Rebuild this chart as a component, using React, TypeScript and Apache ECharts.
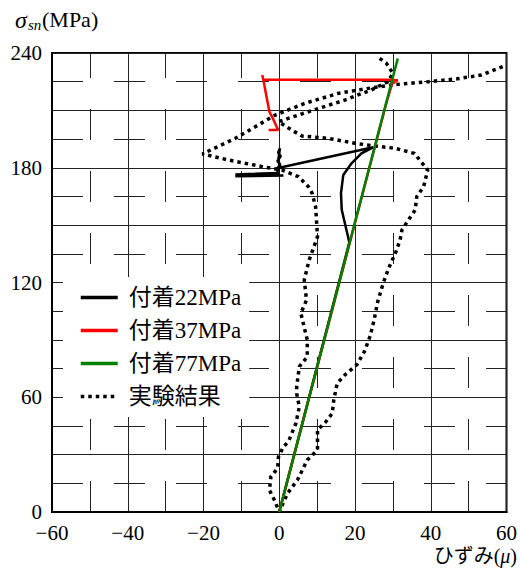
import React, { useEffect, useRef } from 'react';
import * as echarts from 'echarts';

const SERIF = '"Liberation Serif", "Times New Roman", serif';
const MIXED = '"Liberation Serif", "Noto Sans CJK JP", serif';

const seriesNames = ['付着22MPa', '付着37MPa', '付着77MPa', '実験結果'];

// strain (μ), stress (MPa)
const bond22: number[][] = [
  [0, 0], [18.5, 141], [16.5, 158], [16.3, 166.6], [16.9, 176.2], [19.1, 182.3],
  [21.7, 187.5], [24.8, 190.7], [-0.6, 179.7], [0.3, 181.5], [-0.5, 183.5],
  [0.4, 186], [-0.3, 188], [0.2, 190.2], [-0.2, 185], [0.1, 180], [-0.6, 177],
  [-11.6, 175.5], [1.1, 176], [-11.6, 176.5], [0, 177.3], [-0.5, 176.4],
];
const bond37: number[][] = [
  [0, 0], [28.3, 214], [29.8, 224], [31.3, 225.8], [29, 226], [-4.2, 226],
  [-4.5, 228.5], [-4.1, 225], [-3.2, 215.4], [-2.6, 209.3], [-1.5, 205],
  [-0.3, 199.7], [-2.8, 199.7],
];
const bond77: number[][] = [[0, 0], [31.3, 237.2]];
const experiment: number[][] = [
  [26.5, 237.2], [28.3, 234.6], [30, 229.4], [28.7, 225], [24.3, 220.7], [17.3, 215.4],
  [7.7, 209.3], [-0.2, 204.1], [3.3, 199.7], [6, 196.6], [12.9, 195.4], [20, 192.8],
  [25.2, 191.4], [30.5, 190.2], [35.7, 187.5], [39.2, 178.8], [38.1, 170], [36.3, 164.9],
  [35.9, 157.9], [34.1, 152.7], [32.4, 147.5], [31.9, 142.2], [30.8, 136], [29, 128],
  [27.5, 120], [26, 110], [25, 100], [24, 92], [22.5, 84], [20.5, 77], [17.5, 72],
  [15.3, 67.3], [14.4, 58.6], [14, 51.6], [12.3, 47.2], [10.1, 42.9], [10.1, 32.4],
  [7.4, 27.2], [4.8, 16.7], [2.2, 9.8], [0.4, 1.9], [0, 0], [-1.3, 6.3], [-2.6, 11.5],
  [-2.2, 18.5], [-0.4, 23], [-0.2, 28.9], [0.9, 33.3], [2.6, 37.6], [4.4, 46.4],
  [5.3, 55], [4.6, 62], [4.6, 65.5], [5.3, 76], [7.4, 81.2], [7.4, 90], [5.7, 103.9],
  [7.2, 110.8], [6.6, 121.3], [7.9, 131.8], [10.1, 143.9], [9.6, 159.6], [8.7, 166.6],
  [7.7, 170.1], [5.1, 175.3], [0.7, 178.8], [-4.5, 180.6], [-13.3, 184], [-20.3, 187.2],
  [-11.6, 195.4], [-1, 207.6], [6.8, 213.7], [15.6, 218.9], [23.5, 221.5], [30.5, 223.5],
  [39.4, 225], [47, 226.5], [53.4, 228.5], [60, 233.7],
];

const xRange = { min: -60, max: 60, interval: 20 };
const yRange = { min: 0, max: 240, interval: 30, labelEvery: 60 };

export default function App() {
  const ref = useRef<HTMLDivElement>(null);
  useEffect(() => {
    const chart = echarts.init(ref.current as HTMLDivElement, null, { renderer: 'svg' });
    const gridLine = '#222';
    chart.setOption({
      animation: false,
      grid: { left: 52, right: 11, top: 53, bottom: 57, show: true, borderColor: '#000', borderWidth: 2, backgroundColor: 'transparent' },
      xAxis: {
        type: 'value',
        min: xRange.min, max: xRange.max, interval: xRange.interval,
        axisLine: { show: true, onZero: false, lineStyle: { color: '#000', width: 2 } },
        axisTick: { show: false },
        axisLabel: {
          margin: 10, fontSize: 21, color: '#000', fontFamily: SERIF,
          formatter: (v: number) => (v < 0 ? '\u2212' + Math.abs(v) : String(v)),
        },
        splitLine: { show: true, lineStyle: { color: gridLine, width: 1 } },
        minorTick: { show: false, splitNumber: 2 },
        minorSplitLine: { show: true, lineStyle: { color: gridLine, width: 1, type: [31, 31], dashOffset: 6 } },
      },
      yAxis: {
        type: 'value',
        min: yRange.min, max: yRange.max, interval: yRange.interval,
        axisLine: { show: true, onZero: false, lineStyle: { color: '#000', width: 2 } },
        axisTick: { show: false },
        axisLabel: {
          margin: 10, fontSize: 21, color: '#000', fontFamily: SERIF, padding: [2, 0, 0, 0],
          formatter: (v: number) => (v % yRange.labelEvery === 0 ? String(v) : ''),
        },
        splitLine: { show: true, lineStyle: { color: gridLine, width: 1 } },
        minorTick: { show: false, splitNumber: 2 },
        minorSplitLine: { show: true, lineStyle: { color: gridLine, width: 1, type: [31, 31], dashOffset: 0 } },
      },
      legend: {
        orient: 'vertical',
        left: 63, top: 277,
        padding: [9, 8, 9, 16],
        backgroundColor: '#fff',
        itemWidth: 37, itemHeight: 23, itemGap: 10,
        data: seriesNames,
        lineStyle: { width: 3.5 },
        itemStyle: { color: 'transparent', borderWidth: 0, opacity: 0 },
        textStyle: { fontSize: 23, fontFamily: MIXED, color: '#000', padding: [0, 0, 0, 6] },
      },
      graphic: [
        { type: 'text', x: 15, y: 8, style: { text: 'σ', fontSize: 24, fontStyle: 'italic', fontFamily: SERIF, fill: '#000' } },
        { type: 'text', x: 28, y: 17, style: { text: 'sn', fontSize: 15, fontStyle: 'italic', fontFamily: SERIF, fill: '#000' } },
        { type: 'text', x: 42, y: 8, style: { text: '(MPa)', fontSize: 22, fontFamily: SERIF, fill: '#000' } },
        {
          type: 'text', x: 517, y: 546,
          style: {
            text: '{a|ひずみ(}{b|μ}{a|)}', align: 'right', textAlign: 'right', fill: '#000',
            rich: {
              a: { fontSize: 20, fontFamily: MIXED, fill: '#000', color: '#000' },
              b: { fontSize: 20, fontFamily: SERIF, fontStyle: 'italic', fill: '#000', color: '#000' },
            },
          },
        },
      ],
      series: [
        {
          name: seriesNames[3], type: 'line', data: experiment, symbol: 'none', z: 2,
          lineStyle: { color: '#000', width: 3.5, type: [3.5, 4], cap: 'butt' }, itemStyle: { color: '#000' },
        },
        {
          name: seriesNames[0], type: 'line', data: bond22, symbol: 'none', z: 3,
          lineStyle: { color: '#000', width: 2.5 }, itemStyle: { color: '#000' },
        },
        {
          name: seriesNames[1], type: 'line', data: bond37, symbol: 'none', z: 4,
          lineStyle: { color: '#ff0000', width: 2.5 }, itemStyle: { color: '#ff0000' },
        },
        {
          name: seriesNames[2], type: 'line', data: bond77, symbol: 'none', z: 5,
          lineStyle: { color: '#008000', width: 2.5 }, itemStyle: { color: '#008000' },
        },
      ],
    });
    return () => chart.dispose();
  }, []);
  return <div ref={ref} style={{ position: 'absolute', left: 0, top: 0, width: 520, height: 569 }} />;
}
